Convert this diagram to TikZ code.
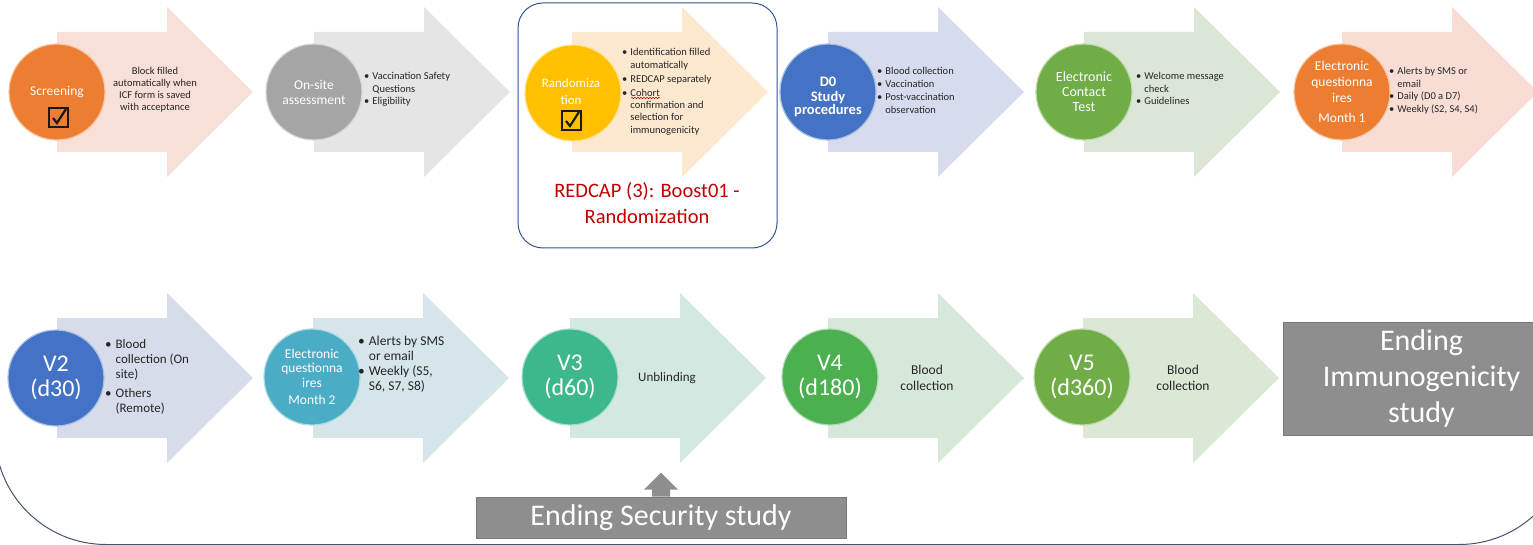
\documentclass[tikz,border=0pt]{standalone}
\usepackage{fontspec}
\setmainfont{Carlito}
\usetikzlibrary{calc,decorations.pathmorphing}
\definecolor{cOrange}{HTML}{ED7D31}
\definecolor{cGray}{HTML}{A5A5A5}
\definecolor{cGold}{HTML}{FFC000}
\definecolor{cBlue}{HTML}{4472C4}
\definecolor{cGreen}{HTML}{70AD47}
\definecolor{cTeal}{HTML}{4BACC6}
\definecolor{cJade}{HTML}{3DB88B}
\definecolor{cLeaf}{HTML}{4CAF50}
\definecolor{aScr}{HTML}{F8DFD7}
\definecolor{aOns}{HTML}{E5E5E5}
\definecolor{aRnd}{HTML}{FCE7CF}
\definecolor{aDzero}{HTML}{D6DCEE}
\definecolor{aEct}{HTML}{DCE6D6}
\definecolor{aMone}{HTML}{F8DDD5}
\definecolor{aVtwo}{HTML}{D7DCEB}
\definecolor{aMtwo}{HTML}{D5E5EA}
\definecolor{aVthree}{HTML}{D4E8E2}
\definecolor{aVfour}{HTML}{D6E8DA}
\definecolor{aVfive}{HTML}{DCE8D6}
\definecolor{endGray}{HTML}{8E8E8E}
\definecolor{redTxt}{HTML}{C00000}
\definecolor{frameCol}{HTML}{44546A}
\definecolor{boxBlue}{HTML}{2F5597}
\definecolor{txtDark}{HTML}{262626}
\newcommand\fsz[2]{\fontsize{#1}{#2}\selectfont}
% block arrow: #1 = x of body start, #2 = centre y, #3 = colour
\newcommand\blockarrow[3]{%
  \fill[#3] (#1,#2-60) -- (#1+110,#2-60) -- (#1+110,#2-85) -- (#1+196,#2)
    -- (#1+110,#2+85) -- (#1+110,#2+60) -- (#1,#2+60) -- cycle;}
\tikzset{
  circ/.style={circle, minimum size=96pt, inner sep=0pt, fill=#1,
    draw=#1!45!white, line width=1.2pt, text=white, align=center},
  bul/.style={anchor=west, inner sep=0pt, text=txtDark, align=left},
  ctr/.style={inner sep=0pt, text=txtDark, align=center},
  chk/.style={draw=black!90, line width=2pt, minimum size=19pt, inner sep=0pt},
  chkmark/.style={draw=black!90, line width=2.2pt},
  endbox/.style={fill=endGray, draw=endGray!85!black, line width=0.6pt,
    text=white, align=center, inner sep=0pt},
}
\begin{document}
\begin{tikzpicture}[x=1pt,y=-1pt]
\useasboundingbox (0,0) rectangle (1533,545);
\begin{scope}
  \clip (0,0) rectangle (1533,545);
  \draw[frameCol, line width=1pt, rounded corners=111pt] (-5,-150) rectangle (1570,544.5);
\end{scope}

% ---------- top row arrows ----------
\blockarrow{57}{92}{aScr}
\blockarrow{314}{92}{aOns}
\blockarrow{572}{92}{aRnd}
\blockarrow{828}{92}{aDzero}
\blockarrow{1084}{92}{aEct}
\blockarrow{1342}{92}{aMone}
% ---------- bottom row arrows ----------
\blockarrow{57}{378}{aVtwo}
\blockarrow{313}{378}{aMtwo}
\blockarrow{570}{378}{aVthree}
\blockarrow{828}{378}{aVfour}
\blockarrow{1083}{378}{aVfive}

% randomization frame
\node[draw=boxBlue, line width=1pt, rounded corners=25pt, minimum width=259pt,
      minimum height=245pt, inner sep=0pt] (rbox) at (647.5,125.5) {};
\node[text=redTxt, align=center, inner sep=0pt, font=\fsz{20.5}{26}] (rboxlbl)
  at (647,203) {REDCAP (3): Boost01 -\\Randomization};

% ---------- top row circles ----------
\node[circ=cOrange, font=\fsz{13.5}{15}] (scr) at (57,92) {Screening};
\node[chk, fill=cOrange] (scrchk) at (58,118) {};
\draw[chkmark] ($(scrchk.center)+(-5,0)$) -- ($(scrchk.center)+(-1,5)$) -- ($(scrchk.center)+(8,-9)$);

\node[circ=cGray, font=\fsz{13.5}{15}] (ons) at (314,92) {On-site\\assessment};

\node[circ=cGold] (rnd) at (573,93) {};
\node[inner sep=0pt, text=white, align=center, font=\fsz{13}{17}] (rndlbl) at (571,91.5) {Randomiza\\tion};
\node[chk, fill=cGold] (rndchk) at (571,121) {};
\draw[chkmark] ($(rndchk.center)+(-5,0)$) -- ($(rndchk.center)+(-1,5)$) -- ($(rndchk.center)+(8,-9)$);

\node[circ=cBlue] (dzero) at (828,92) {};
\node[inner sep=0pt, text=white, align=center, font=\bfseries\fsz{14.5}{13.5}] (dzerolbl)
  at (828,97) {D0\\[1pt]Study\\procedures};
\node[circ=cGreen, font=\fsz{14}{15}] (ect) at (1084,92) {Electronic\\Contact\\Test};
\node[circ=cOrange, font=\fsz{13.5}{16}] (mone) at (1342,92) {Electronic\\questionna\\ires\\[4pt]Month 1};

% ---------- top row texts ----------
\node[ctr, font=\fsz{10.5}{12}] (scrtxt) at (155,90)
  {Block filled\\automatically when\\ICF form is saved\\with acceptance};
\node[bul, font=\fsz{10.5}{12.5}] (onstxt) at (364,90)
  {\begin{tabular}{@{}l@{\hspace{3pt}}l@{}}\textbullet&Vaccination Safety\\ &Questions\\ \textbullet&Eligibility\end{tabular}};
\node[bul, font=\fsz{10.5}{12.2}] (rndtxt) at (622,92)
  {\begin{tabular}{@{}l@{\hspace{3pt}}l@{}}\textbullet&Identification filled\\ &automatically\\[2pt] \textbullet&REDCAP separately\\[2pt] \textbullet&Cohort\\ &confirmation and\\ &selection for\\ &immunogenicity\end{tabular}};
\draw[redTxt, line width=0.5pt, decorate, decoration={snake, amplitude=0.7pt, segment length=3pt}]
  (631,98) -- (660,98);
\node[bul, font=\fsz{10.5}{13}] (dzerotxt) at (877,91)
  {\begin{tabular}{@{}l@{\hspace{3pt}}l@{}}\textbullet&Blood collection\\ \textbullet&Vaccination\\ \textbullet&Post-vaccination\\ &observation\end{tabular}};
\node[bul, font=\fsz{10.5}{12.5}] (ecttxt) at (1136,90)
  {\begin{tabular}{@{}l@{\hspace{3pt}}l@{}}\textbullet&Welcome message\\ &check\\ \textbullet&Guidelines\end{tabular}};
\node[bul, font=\fsz{10.5}{12.7}] (monetxt) at (1389,91)
  {\begin{tabular}{@{}l@{\hspace{3pt}}l@{}}\textbullet&Alerts by SMS or\\ &email\\ \textbullet&Daily (D0 a D7)\\ \textbullet&Weekly (S2, S4, S4)\end{tabular}};

% ---------- bottom row circles ----------
\node[circ=cBlue, font=\fsz{24}{25}] (vtwo) at (56,378) {V2\\(d30)};
\node[circ=cTeal, font=\fsz{13.5}{14.5}] (mtwo) at (312,377) {Electronic\\questionna\\ires\\[3pt]Month 2};
\node[circ=cJade, font=\fsz{24}{25}] (vthree) at (570,377) {V3\\(d60)};
\node[circ=cLeaf, font=\fsz{24}{25}] (vfour) at (830,377) {V4\\(d180)};
\node[circ=cGreen, font=\fsz{24}{25}] (vfive) at (1082,377) {V5\\(d360)};

% ---------- bottom row texts ----------
\node[bul, font=\fsz{13}{15}] (vtwotxt) at (105,377)
  {\begin{tabular}{@{}l@{\hspace{4pt}}l@{}}\textbullet&Blood\\ &collection (On\\ &site)\\[4pt] \textbullet&Others\\ &(Remote)\end{tabular}};
\node[bul, font=\fsz{13.5}{14.8}] (mtwotxt) at (358,365)
  {\begin{tabular}{@{}l@{\hspace{4pt}}l@{}}\textbullet&Alerts by SMS\\ &or email\\ \textbullet&Weekly (S5,\\ &S6, S7, S8)\end{tabular}};
\node[ctr, font=\fsz{13}{15}] (vthreetxt) at (667,378) {Unblinding};
\node[ctr, font=\fsz{13.5}{16}] (vfourtxt) at (927,378) {Blood\\collection};
\node[ctr, font=\fsz{13.5}{16}] (vfivetxt) at (1183,378) {Blood\\collection};

% ---------- ending boxes ----------
\begin{scope}
  \clip (0,0) rectangle (1533,545);
  \node[endbox, minimum width=277pt, minimum height=113pt, font=\fsz{30}{35.5}]
    (imm) at (1421.5,378.5) {Ending\\Immunogenicity\\study};
\end{scope}
\node[endbox, minimum width=370pt, minimum height=41pt, font=\fsz{30}{34}]
  (sec) at (661,517.5) {Ending Security study};
\fill[endGray] ($(sec.north)+(-9,0)$) -- ($(sec.north)+(-9,-7)$) -- ($(sec.north)+(-17,-7)$)
  -- ($(sec.north)+(0,-24)$) -- ($(sec.north)+(17,-7)$) -- ($(sec.north)+(9,-7)$)
  -- ($(sec.north)+(9,0)$) -- cycle;
\end{tikzpicture}
\end{document}
